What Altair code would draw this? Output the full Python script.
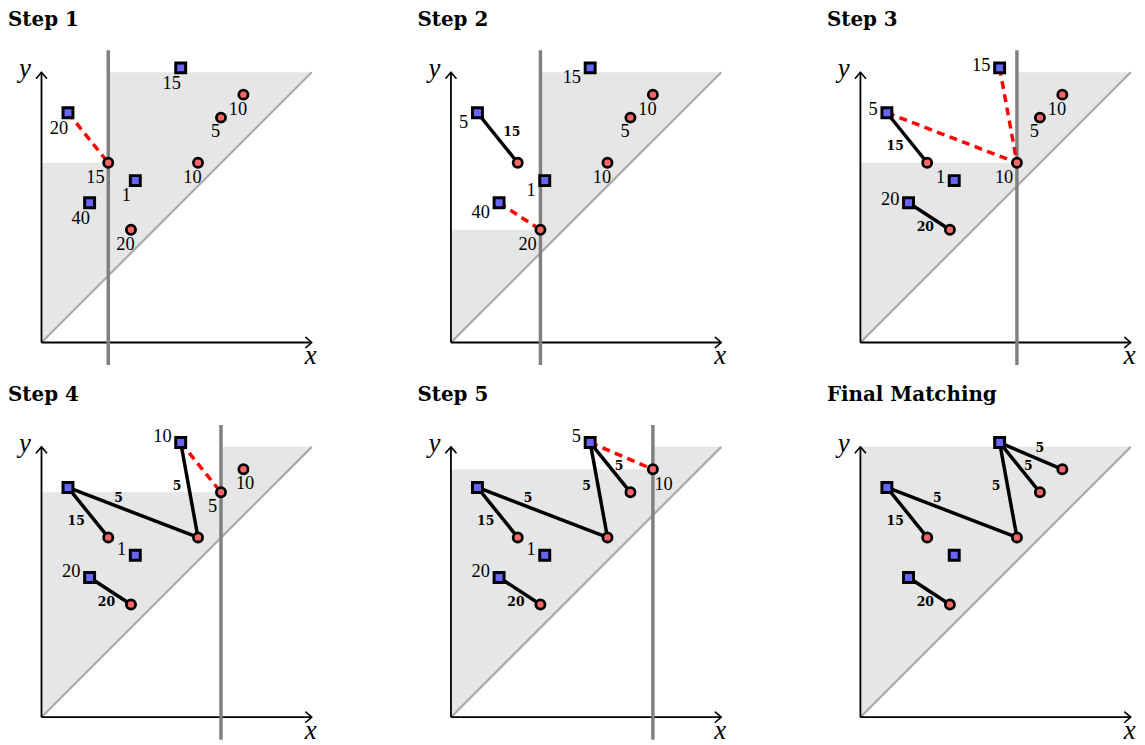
import altair as alt
import pandas as pd

# ---------------- data (data units, diagonal ends at TOP) ----------------
TOP = 10.0
blue_ids = ["B1", "B2", "B3", "B4"]
blue_x = [0.98, 1.78, 3.47, 5.15]
blue_y = [8.50, 5.17, 5.99, 10.16]
red_ids = ["R1", "R2", "R3", "R4", "R5"]
red_x = [2.47, 3.31, 5.79, 6.64, 7.47]
red_y = [6.65, 4.17, 6.65, 8.32, 9.17]

step_titles = ["Step 1", "Step 2", "Step 3", "Step 4", "Step 5", "Final Matching"]
sweep_point = ["R1", "R2", "R3", "R4", "R5", None]

# matched (solid) edges per step: (blue, red, flow label, label placement)
matched_edges = [
    [],
    [("B1", "R1", "15", "ne")],
    [("B1", "R1", "15", "sw"), ("B2", "R2", "20", "s")],
    [("B1", "R1", "15", "sw"), ("B2", "R2", "20", "s"), ("B1", "R3", "5", "nw"), ("B4", "R3", "5", "w")],
    [("B1", "R1", "15", "sw"), ("B2", "R2", "20", "s"), ("B1", "R3", "5", "nw"), ("B4", "R3", "5", "w"),
     ("B4", "R4", "5", "e")],
    [("B1", "R1", "15", "sw"), ("B2", "R2", "20", "s"), ("B1", "R3", "5", "nw"), ("B4", "R3", "5", "w"),
     ("B4", "R4", "5", "e"), ("B4", "R5", "5", "ne2")],
]
# candidate (dashed) edges per step
candidate_edges = [
    [("B1", "R1")],
    [("B2", "R2")],
    [("B1", "R3"), ("B4", "R3")],
    [("B4", "R4")],
    [("B4", "R5")],
    [],
]
# remaining mass labels per step: (point, text, placement)
point_labels = [
    [("B1", "20", "bl"), ("B2", "40", "bl"), ("B3", "1", "bl"), ("B4", "15", "bl"), ("R1", "15", "cur"),
     ("R2", "20", "b"), ("R3", "10", "b"), ("R4", "5", "b"), ("R5", "10", "b")],
    [("B1", "5", "lb"), ("B2", "40", "lb"), ("B3", "1", "lb"), ("B4", "15", "lb"), ("R2", "20", "cur"),
     ("R3", "10", "b"), ("R4", "5", "b"), ("R5", "10", "b")],
    [("B1", "5", "l"), ("B2", "20", "l"), ("B3", "1", "l"), ("B4", "15", "l"), ("R3", "10", "cur"),
     ("R4", "5", "b"), ("R5", "10", "b")],
    [("B2", "20", "al"), ("B3", "1", "al"), ("B4", "10", "al"), ("R4", "5", "cur"), ("R5", "10", "br")],
    [("B2", "20", "al"), ("B3", "1", "al"), ("B4", "5", "al"), ("R5", "10", "cur_r")],
    [],
]

# ---------------- styles / layout ----------------
PX = 27.2                          # pixels per data unit
W, H = 312, 360                    # panel size
ORIGIN_X, ORIGIN_Y = 33.7, 334.3   # origin inside a panel (px from left / top)
SWEEP_TOP, SWEEP_BOTTOM = 40.3, 357.0

SHADE = "#e6e6e6"
DIAG = "#aaaaaa"
SWEEP = "#808080"
RED_FILL = "#ff6666"
BLUE_FILL = "#6666ff"
DASH_RED = "#ff0000"

# label placements (px, x right / y down, text align)
POINT_LABEL_STYLE = {
    "bl": (-9.0, 15.0, "center"),
    "b": (-5.5, 14.0, "center"),
    "cur": (-3.7, 14.0, "right"),
    "cur_r": (1.5, 15.0, "left"),
    "br": (1.7, 14.3, "center"),
    "lb": (-9.2, 9.7, "right"),
    "l": (-9.2, -3.3, "right"),
    "al": (-9.2, -6.5, "right"),
}
EDGE_LABEL_STYLE = {  # offsets from edge midpoint (px, x right / y down)
    "ne": (14.3, -6.1),
    "sw": (-12.0, 8.2),
    "s": (-3.9, 11.0),
    "nw": (-14.6, -14.3),
    "w": (-12.3, -4.0),
    "e": (8.7, -1.7),
    "ne2": (9.0, -7.9),
}

pos = {i: (x, y) for i, x, y in zip(blue_ids, blue_x, blue_y)}
pos.update({i: (x, y) for i, x, y in zip(red_ids, red_x, red_y)})

xs = alt.Scale(domain=[-ORIGIN_X / PX, (W - ORIGIN_X) / PX], nice=False, zero=False)
ys = alt.Scale(domain=[-(H - ORIGIN_Y) / PX, ORIGIN_Y / PX], nice=False, zero=False)


def X(f):
    return alt.X(f, type="quantitative", scale=xs, axis=None)


def Y(f):
    return alt.Y(f, type="quantitative", scale=ys, axis=None)


def seg_df(pairs):
    return pd.DataFrame({
        "x": [pos[b][0] for b, r in pairs],
        "y": [pos[b][1] for b, r in pairs],
        "x2": [pos[r][0] for b, r in pairs],
        "y2": [pos[r][1] for b, r in pairs],
    })


def panel(k):
    cur = sweep_point[k]
    layers = []
    # shaded region above the diagonal (the part left of the sweep line is cut at its height)
    if cur is not None:
        xl, yl = pos[cur]
        parts = [pd.DataFrame({"x": [0.0, xl], "lo": [0.0, xl], "hi": [yl, yl]}),
                 pd.DataFrame({"x": [xl, TOP], "lo": [xl, TOP], "hi": [TOP, TOP]})]
    else:
        parts = [pd.DataFrame({"x": [0.0, TOP], "lo": [0.0, TOP], "hi": [TOP, TOP]})]
    for part in parts:
        layers.append(alt.Chart(part).mark_area(color=SHADE, opacity=1).encode(
            x=X("x"), y=Y("lo"), y2=alt.Y2("hi")))
    # diagonal
    diag = pd.DataFrame({"x": [0.0], "y": [0.0], "x2": [TOP], "y2": [TOP]})
    layers.append(alt.Chart(diag).mark_rule(color=DIAG, strokeWidth=2.2).encode(
        x=X("x"), y=Y("y"), x2="x2", y2="y2"))
    # axes
    axes = pd.DataFrame({"x": [0.0, 0.0], "y": [0.0, 0.0], "x2": [TOP, 0.0], "y2": [0.0, TOP]})
    layers.append(alt.Chart(axes).mark_rule(color="black", strokeWidth=1.8).encode(
        x=X("x"), y=Y("y"), x2="x2", y2="y2"))
    layers.append(alt.Chart(pd.DataFrame({"x": [TOP], "y": [0.0]})).mark_point(
        shape="M -1 -0.85 L 0 0 L -1 0.85", filled=False, stroke="black", strokeWidth=1.6,
        size=144, opacity=1, strokeCap="round", strokeJoin="round").encode(x=X("x"), y=Y("y")))
    layers.append(alt.Chart(pd.DataFrame({"x": [0.0], "y": [TOP]})).mark_point(
        shape="M -0.85 1 L 0 0 L 0.85 1", filled=False, stroke="black", strokeWidth=1.6,
        size=144, opacity=1, strokeCap="round", strokeJoin="round").encode(x=X("x"), y=Y("y")))
    # sweep line
    if cur is not None:
        layers.append(alt.Chart(pd.DataFrame({"x": [pos[cur][0]]})).mark_rule(
            color=SWEEP, strokeWidth=3.5).encode(
            x=X("x"), y=alt.value(SWEEP_TOP), y2=alt.value(SWEEP_BOTTOM)))
    # matched edges
    me = matched_edges[k]
    if me:
        layers.append(alt.Chart(seg_df([(b, r) for b, r, _, _ in me])).mark_rule(
            color="black", strokeWidth=3.5).encode(x=X("x"), y=Y("y"), x2="x2", y2="y2"))
    # candidate edges
    ce = candidate_edges[k]
    if ce:
        layers.append(alt.Chart(seg_df(ce)).mark_rule(
            color=DASH_RED, strokeWidth=3.5, strokeDash=[8, 5.5]).encode(
            x=X("x"), y=Y("y"), x2="x2", y2="y2"))
    # points
    layers.append(alt.Chart(pd.DataFrame({"x": blue_x, "y": blue_y})).mark_point(
        shape="square", filled=True, fill=BLUE_FILL, stroke="black", strokeWidth=3,
        size=100, opacity=1).encode(x=X("x"), y=Y("y")))
    layers.append(alt.Chart(pd.DataFrame({"x": red_x, "y": red_y})).mark_point(
        shape="circle", filled=True, fill=RED_FILL, stroke="black", strokeWidth=2.8,
        size=85, opacity=1).encode(x=X("x"), y=Y("y")))
    # edge labels
    if me:
        rows = []
        for b, r, t, st in me:
            mx = (pos[b][0] + pos[r][0]) / 2
            my = (pos[b][1] + pos[r][1]) / 2
            dx, dy = EDGE_LABEL_STYLE[st]
            rows.append({"x": mx + dx / PX, "y": my - dy / PX, "t": t})
        layers.append(alt.Chart(pd.DataFrame(rows)).mark_text(
            font="DejaVu Serif", fontWeight="bold", fontSize=12.5, color="black",
            align="center", baseline="middle").encode(x=X("x"), y=Y("y"), text="t:N"))
    # point labels
    pl = point_labels[k]
    for al in ["left", "center", "right"]:
        rows = []
        for p, t, st in pl:
            dx, dy, a = POINT_LABEL_STYLE[st]
            if a != al:
                continue
            rows.append({"x": pos[p][0] + dx / PX, "y": pos[p][1] - dy / PX, "t": t})
        if rows:
            layers.append(alt.Chart(pd.DataFrame(rows)).mark_text(
                font="Liberation Serif", fontSize=18.5, color="black", align=al,
                baseline="middle").encode(x=X("x"), y=Y("y"), text="t:N"))
    # axis names
    layers.append(alt.Chart(pd.DataFrame({"x": [TOP], "y": [0.0], "t": ["x"]})).mark_text(
        font="Liberation Serif", fontStyle="italic", fontSize=27, color="black", align="center",
        baseline="alphabetic", dx=-1, dy=21.7).encode(x=X("x"), y=Y("y"), text="t:N"))
    layers.append(alt.Chart(pd.DataFrame({"x": [0.0], "y": [TOP], "t": ["y"]})).mark_text(
        font="Liberation Serif", fontStyle="italic", fontSize=27, color="black", align="center",
        baseline="alphabetic", dx=-16.7, dy=5).encode(x=X("x"), y=Y("y"), text="t:N"))
    # panel title
    layers.append(alt.Chart(pd.DataFrame({"t": [step_titles[k]]})).mark_text(
        font="DejaVu Serif", fontWeight="bold", fontSize=20, color="black", align="left",
        baseline="top").encode(x=alt.value(0), y=alt.value(0), text="t:N"))

    return alt.layer(*layers).properties(width=W, height=H)


row1 = alt.hconcat(panel(0), panel(1), panel(2), spacing=100)
row2 = alt.hconcat(panel(3), panel(4), panel(5), spacing=100)
chart = alt.vconcat(row1, row2, spacing=16).properties(padding=0).configure(
    background="white").configure_view(strokeWidth=0, stroke="transparent")

chart.save("out.html", embed_options={"renderer": "svg", "actions": False})
